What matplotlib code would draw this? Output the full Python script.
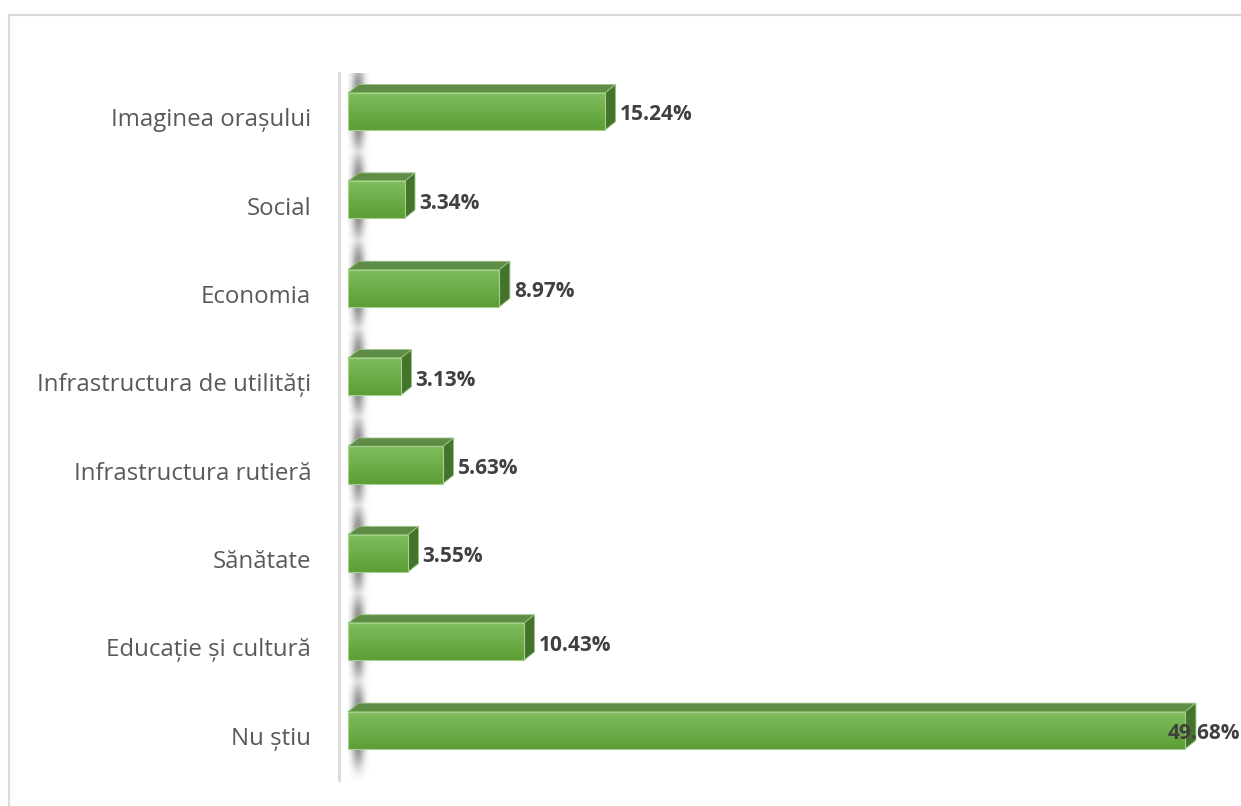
import numpy as np
import matplotlib
matplotlib.use("Agg")
import matplotlib.pyplot as plt
from matplotlib.patches import Polygon, Rectangle
from matplotlib.transforms import blended_transform_factory, offset_copy

CATEGORIES = [
    "Imaginea orașului",
    "Social",
    "Economia",
    "Infrastructura de utilități",
    "Infrastructura rutieră",
    "Sănătate",
    "Educație și cultură",
    "Nu știu",
]
VALUES = [15.24, 3.34, 8.97, 3.13, 5.63, 3.55, 10.43, 49.68]
LABELS = ["15.24%", "3.34%", "8.97%", "3.13%", "5.63%", "3.55%", "10.43%", "49.68%"]

W, H = 1241, 806
plt.rcParams["font.family"] = ["Open Sans", "DejaVu Sans"]

fig = plt.figure(figsize=(W / 100, H / 100), dpi=100)
fig.patch.set_facecolor("white")

# outer chart border
fig.add_artist(Rectangle((8.5 / W, -0.05), 1.1, 1 - 14.5 / H + 0.05,
                         transform=fig.transFigure, fill=False,
                         edgecolor="#d9d9d9", lw=1.5))

XMIN, XMAX = -0.55, 52.5
ax = fig.add_axes([339 / W, 26 / H, (1233 - 339) / W, (733 - 26) / H])
for s in ["top", "right", "bottom"]:
    ax.spines[s].set_visible(False)
ax.spines["left"].set_color("#d9d9d9")
ax.spines["left"].set_linewidth(2)
ax.set_xticks([])
ax.set_yticks(range(len(CATEGORIES)))
ax.set_yticklabels(CATEGORIES, fontsize=17.3, color="#595959")
ax.tick_params(axis="y", length=0, pad=20)

# 3d geometry in data units
bh = 0.42          # front face height
off = 0.065        # front face shift upward from category centre
dx = 0.62          # depth in x (%)
dy = 0.095         # depth in y (category units)

# soft wall shadow behind bars
ny, nx = 600, 60
xs = np.linspace(0, 1.6, nx)
ys = np.linspace(-0.5, 7.5, ny)
X, Y = np.meshgrid(xs, ys)
alpha = np.zeros_like(X)
for i in range(len(VALUES)):
    yc = i - off - dy / 2
    a = np.exp(-((Y - yc) / 0.46) ** 4)
    alpha = np.maximum(alpha, a)
alpha *= np.exp(-((X - 0.6) / 0.38) ** 2) * 0.7
img = np.zeros((ny, nx, 4))
img[..., :3] = 0.32
img[..., 3] = alpha
ax.imshow(img, extent=(0, 1.6, 7.5, -0.5), aspect="auto", zorder=1,
          interpolation="bilinear")

grad = np.linspace(0, 1, 64).reshape(-1, 1)
top_c = np.array([0x80, 0xbd, 0x5e]) / 255
bot_c = np.array([0x5c, 0x9e, 0x36]) / 255
grad_img = (top_c + (bot_c - top_c) * grad[..., None]).reshape(64, 1, 3)

for i, v in enumerate(VALUES):
    y0 = i - off - bh / 2   # top edge of front face
    y1 = i - off + bh / 2   # bottom edge
    # top face
    ax.add_patch(Polygon([(0, y0), (v, y0), (v + dx, y0 - dy), (dx, y0 - dy)],
                         closed=True, facecolor="#5f8c47", edgecolor="#9cc586",
                         lw=0.6, zorder=3))
    # side face
    ax.add_patch(Polygon([(v, y0), (v + dx, y0 - dy), (v + dx, y1 - dy), (v, y1)],
                         closed=True, facecolor="#44742c", edgecolor="#9cc586",
                         lw=0.6, zorder=3))
    # front face gradient
    ax.imshow(grad_img, extent=(0, v, y1, y0), aspect="auto", zorder=4,
              interpolation="bilinear")
    ax.add_patch(Rectangle((0, y0), v, bh, fill=False, edgecolor="#a9d08e",
                           lw=0.8, zorder=5))

ax.set_xlim(XMIN, XMAX)
ax.set_ylim(7.5, -0.5)

vmax = max(VALUES)
for i, (v, lab) in enumerate(zip(VALUES, LABELS)):
    yc = i - off + 0.04
    if v == vmax:
        tr = blended_transform_factory(fig.transFigure, ax.transData)
        fig.text(1240 / W, yc, lab, fontsize=15, fontweight="bold",
                 color="#404040", ha="right", va="center", transform=tr,
                 zorder=10)
    else:
        tr = offset_copy(ax.transData, fig=fig, x=4, y=0, units="dots")
        ax.text(v + dx, yc, lab, fontsize=15, fontweight="bold",
                color="#404040", ha="left", va="center", transform=tr,
                zorder=10)

fig.savefig("out.png", dpi=100)
